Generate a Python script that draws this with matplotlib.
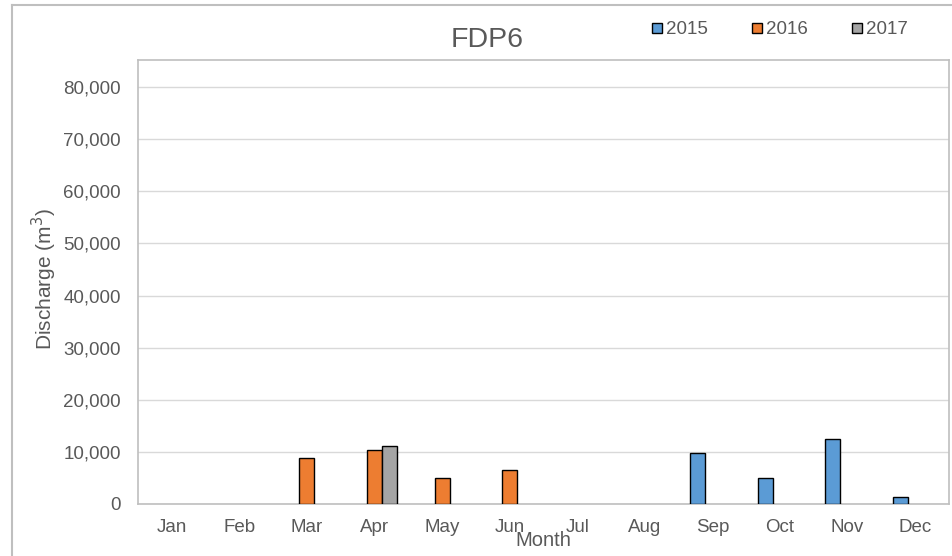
import matplotlib.pyplot as plt
import numpy as np
from matplotlib.lines import Line2D
from matplotlib.ticker import FuncFormatter

plt.rcParams['font.family'] = ['Liberation Sans', 'DejaVu Sans']

months = ['Jan', 'Feb', 'Mar', 'Apr', 'May', 'Jun', 'Jul', 'Aug', 'Sep', 'Oct', 'Nov', 'Dec']
years = ['2015', '2016', '2017']
nan = np.nan
q2015 = [nan, nan, nan, nan, nan, nan, nan, nan, 9730, 5050, 12480, 1340]
q2016 = [nan, nan, 8890, 10360, 5000, 6500, nan, nan, nan, nan, nan, nan]
q2017 = [nan, nan, nan, 11190, nan, nan, nan, nan, nan, nan, nan, nan]
colors = ['#5b9bd5', '#ed7d31', '#a5a5a5']

text_col = '#595959'
grid_col = '#d9d9d9'
frame_col = '#bfbfbf'

fig = plt.figure(figsize=(9.53, 5.56), dpi=100)
ax = fig.add_axes([138 / 953, 1 - 504 / 556, (949 - 138) / 953, (504 - 60) / 556])

x = np.arange(len(months))
w = 0.222
for i, (vals, c, lab) in enumerate(zip([q2015, q2016, q2017], colors, years)):
    ax.bar(x + (i - 1) * w, vals, width=w, color=c, edgecolor='black', linewidth=1.0, label=lab, zorder=3)

ax.set_xlim(-0.5, 11.5)
ax.set_ylim(0, 85200)
ax.set_yticks(np.arange(0, 80001, 10000))
ax.yaxis.set_major_formatter(FuncFormatter(lambda v, p: f'{int(v):,}'))
ax.set_xticks(x)
ax.set_xticklabels(months)
ax.tick_params(axis='both', length=0, labelsize=13.5, colors=text_col)
ax.tick_params(axis='x', pad=11)
ax.tick_params(axis='y', pad=12.5)
ax.grid(axis='y', color=grid_col, linewidth=1, zorder=0)
for s in ax.spines.values():
    s.set_color(frame_col)
    s.set_linewidth(1.2)

# axis titles
fig.text(543.5 / 953, 1 - 541 / 556, 'Month', fontsize=14.5, color=text_col, ha='center', va='center')
fig.text(44 / 953, 1 - 279 / 556, 'Discharge (m$^3$)', fontsize=15, color=text_col,
         rotation=90, ha='center', va='center')

fig.text(487 / 953, 1 - 40 / 556, 'FDP6', fontsize=20.5, color=text_col, ha='center', va='center')

leg = fig.legend(loc='center left', bbox_to_anchor=(652 / 953, 1 - 30 / 556), ncol=3, frameon=False,
                 fontsize=13.5, handlelength=0.55, handleheight=0.5, handletextpad=0.2, columnspacing=2.35,
                 labelcolor=text_col, borderaxespad=0, borderpad=0)

# outer chart frame
fig.add_artist(Line2D([12 / 953, 1], [1 - 5 / 556, 1 - 5 / 556], color=frame_col, linewidth=1.5))
fig.add_artist(Line2D([12 / 953, 12 / 953], [0, 1 - 5 / 556], color=frame_col, linewidth=1.5))

fig.savefig('out.png', dpi=100)
